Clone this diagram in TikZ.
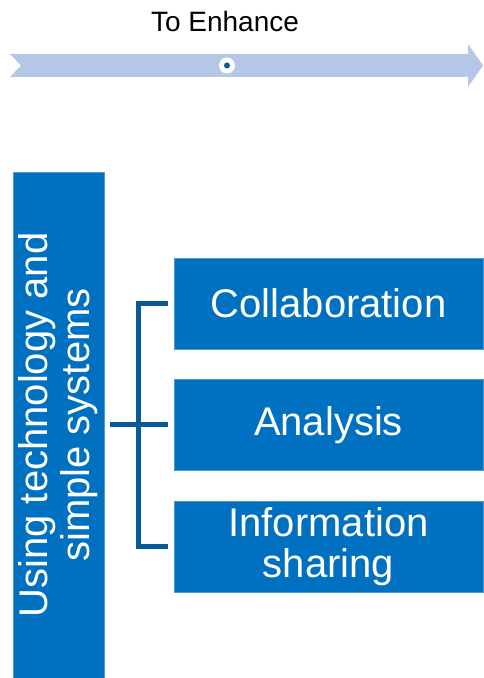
\documentclass[tikz,border=0pt]{standalone}
\usepackage{fontspec}
\setmainfont{Liberation Sans}
\usepackage{tikz}
\usetikzlibrary{positioning}
\tikzset{box/.style = {fill = mblue, draw = mblue!70!white, line width = 0.6, outer sep = 0, inner sep = 0, text = white, align = center, font = \fontsize{40}{42}\selectfont}}
\tikzset{item/.style = {box, minimum width = 309, minimum height = 91}}
\tikzset{bracket/.style = {draw = mdark, line width = 5}}
\definecolor{mblue}{RGB}{0, 112, 192}
\definecolor{mdark}{RGB}{10, 90, 152}
\definecolor{mlight}{RGB}{180, 199, 231}

\begin{document}
\begin{tikzpicture}[x=1pt, y=1pt]
    \useasboundingbox (0, 0) rectangle (483, 678);

    % arrow on top
    \fill [mlight] (10, 601) -- (468, 601) -- (468, 591) -- (483, 612.5)
        -- (468, 634) -- (468, 624) -- (10, 624) -- (21, 612.5) -- cycle;
    \node [circle, fill = white, inner sep = 0, minimum size = 16] (hub) at (227, 612.5) {};
    \node [circle, fill = mdark, inner sep = 0, minimum size = 6] (dot) at (hub) {};
    \node [anchor = base, font = \fontsize{28}{32}\selectfont] (title) at (225, 646) {To Enhance};

    \node [box, rotate = 90, minimum width = 506, minimum height = 91] (tech) at (58.5, 253)
        {Using technology and\\simple systems};

    \node [item] (collab) at (328.5, 374.5) {Collaboration};
    \node [item, below = 30.5 of collab] (analysis) {Analysis};
    \node [item, below = 30.5 of analysis, font = \fontsize{40}{41}\selectfont] (info) {Information\\sharing};

    \coordinate (fork) at ([xshift = -35.5]analysis.west);
    \draw [bracket] ([xshift = -6]collab.west) -| (fork) |- ([xshift = -6]info.west);
    \draw [bracket] ([xshift = 6]tech.south |- analysis.west) -- ([xshift = -6]analysis.west);
  \end{tikzpicture}
\end{document}
